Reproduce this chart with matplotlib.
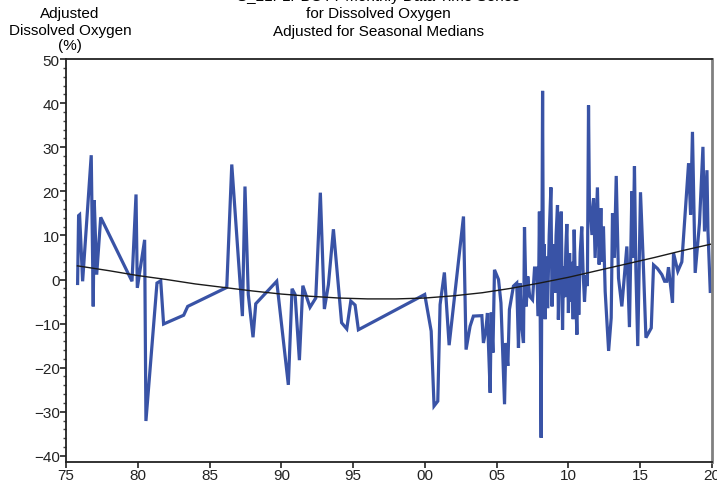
import numpy as np
import matplotlib.pyplot as plt
from matplotlib.ticker import MultipleLocator

# adjusted dissolved oxygen (%) by decimal year
years = [
    1975.81, 1975.88, 1975.95, 1976.16, 1976.76, 1976.90, 1976.97, 1977.14, 1977.42,
    1979.60, 1979.88, 1979.97, 1980.48, 1980.57, 1981.34, 1981.60, 1981.80, 1983.20,
    1983.48, 1986.20, 1986.55, 1987.29, 1987.47, 1987.70, 1988.03, 1988.22, 1989.68,
    1990.49, 1990.75, 1990.96, 1991.26, 1991.50, 1992.00, 1992.40, 1992.72, 1993.00,
    1993.28, 1993.63, 1994.20, 1994.56, 1994.84, 1995.14, 1995.37, 1999.99, 2000.44,
    2000.64, 2000.90, 2001.06, 2001.36, 2001.69, 2002.69, 2002.87, 2003.15, 2003.38,
    2003.97, 2004.08, 2004.25, 2004.36, 2004.43, 2004.55, 2004.62, 2004.74, 2004.85,
    2005.13, 2005.30, 2005.55, 2005.64, 2005.78, 2005.89, 2006.17, 2006.40, 2006.52,
    2006.62, 2006.76, 2006.87, 2006.94, 2007.06, 2007.17, 2007.30, 2007.50, 2007.64,
    2007.78, 2007.90, 2007.98, 2008.10, 2008.20, 2008.26, 2008.32, 2008.38, 2008.46,
    2008.55, 2008.66, 2008.78, 2008.86, 2008.95, 2009.05, 2009.14, 2009.24, 2009.30,
    2009.40, 2009.50, 2009.59, 2009.66, 2009.75, 2009.82, 2009.89, 2010.00, 2010.08,
    2010.16, 2010.25, 2010.33, 2010.40, 2010.50, 2010.59, 2010.66, 2010.72, 2010.82,
    2010.93, 2011.02, 2011.12, 2011.22, 2011.32, 2011.40, 2011.46,
    2011.64, 2011.75, 2011.86, 2012.02, 2012.14, 2012.26, 2012.35, 2012.44, 2012.56,
    2012.80, 2012.98, 2013.07, 2013.20, 2013.33, 2013.49, 2013.72, 2014.07, 2014.25,
    2014.42, 2014.50, 2014.60, 2014.70, 2014.83, 2015.02, 2015.20, 2015.40, 2015.77,
    2015.93, 2016.20, 2016.51, 2016.70, 2016.85, 2016.97, 2017.25, 2017.32, 2017.62,
    2017.90, 2018.37, 2018.51, 2018.64, 2018.83, 2019.13, 2019.37, 2019.48, 2019.65,
    2019.72, 2019.88,
]
values = [
    -0.9, 14.5, 14.7, -0.4, 28.2, -6.1, 18.0, 1.1, 14.1,
    -0.4, 19.3, -1.9, 9.0, -32.1, -0.8, -0.3, -10.1, -8.1,
    -6.1, -1.8, 26.1, -8.3, 21.1, -3.4, -13.1, -5.5, -0.4,
    -23.9, -2.1, -3.4, -18.3, -1.4, -6.3, -4.2, 19.7, -6.7,
    -1.2, 11.4, -9.8, -11.2, -4.9, -5.8, -11.4, -3.4, -11.7,
    -28.7, -27.6, -5.7, 1.6, -14.9, 14.3, -15.9, -10.6, -8.3,
    -8.2, -14.4, -11.4, -7.6, -14.8, -25.7, -7.5, -16.6, 2.2,
    0.0, -5.3, -28.3, -14.4, -19.6, -6.8, -1.5, -0.8, -15.5,
    -0.8, -11.0, -14.4, 11.9, -6.1, 0.7, -3.8, -4.6, 2.6,
    2.6, -8.3, 15.4, -35.9, 42.8, -5.0, 8.0, -9.0, 5.2,
    -6.5, 10.0, 20.9, -6.1, 8.0, -3.0, 10.0, 16.9, -9.1,
    6.0, 15.4, -11.4, 3.0, -4.0, 7.0, 12.6, -7.6, 6.0,
    -5.0, 4.0, -9.0, 11.3, -3.0, -12.5, 3.0, -8.0, 6.0,
    12.0, 2.0, -5.0, 1.0, -1.5, 39.5, 18.4,
    10.1, 18.4, 4.9, 20.9, 3.4, 16.2, 4.0, 12.0, -2.7,
    -16.2, -8.7, 15.0, 5.0, 23.5, 0.3, -6.1, 7.5, -10.8,
    20.0, 5.0, 25.7, 2.0, -15.1, 19.8, 5.0, -13.2, -11.0,
    3.3, 2.5, 1.1, -0.4, -0.4, 2.8, -5.3, 6.0, 1.9,
    4.0, 26.4, 14.7, 33.5, 1.5, 12.8, 30.1, 10.9, 24.8,
    11.0, -2.7,
]

# smooth trend curve
trend_years = [1975.8, 1978, 1980, 1982, 1984, 1986, 1988, 1990, 1992, 1994, 1996, 1998,
               2000, 2002, 2004, 2006, 2008, 2010, 2012, 2014, 2016, 2018, 2019.9]
trend_values = [3.1, 2.0, 0.9, 0.0, -1.0, -1.8, -2.6, -3.3, -3.8, -4.2, -4.4, -4.4,
                -4.2, -3.7, -3.0, -2.0, -0.8, 0.5, 2.0, 3.5, 5.0, 6.6, 8.0]

x_ticks = [1975, 1980, 1985, 1990, 1995, 2000, 2005, 2010, 2015, 2020]
x_labels = ['75', '80', '85', '90', '95', '00', '05', '10', '15', '20']

plt.rcParams['font.family'] = ['Liberation Sans', 'DejaVu Sans']

fig = plt.figure(figsize=(7.17, 4.85), dpi=100)
ax = fig.add_axes([0.092, 0.0454, 0.901, 0.8306])

ax.plot(years, values, color='#3953a6', lw=2.3, solid_joinstyle='miter')
ax.plot(trend_years, trend_values, color='#1a1a1a', lw=1.0)

ax.set_xlim(1975, 2020)
ax.set_ylim(-41.4, 50)
ax.set_xticks(x_ticks)
ax.set_xticklabels(x_labels)
ax.yaxis.set_major_locator(MultipleLocator(10))
ax.yaxis.set_minor_locator(MultipleLocator(2))
ax.tick_params(axis='both', labelsize=11, direction='out', length=4, width=1.2,
               colors='#222222', pad=0.5)
ax.tick_params(axis='y', which='minor', length=2.5, width=1.0, colors='#444444')

for side in ['left', 'bottom', 'top']:
    ax.spines[side].set_color('#222222')
    ax.spines[side].set_linewidth(1.3)
ax.spines['right'].set_color('#808080')
ax.spines['right'].set_linewidth(2.0)

# y-axis caption above the axis
fig.text(70 / 717, 1 - 14 / 485, 'Adjusted', ha='center', va='center', fontsize=11)
fig.text(70 / 717, 1 - 31 / 485, 'Dissolved Oxygen', ha='center', va='center', fontsize=11)
fig.text(70 / 717, 1 - 46 / 485, '(%)', ha='center', va='center', fontsize=11)

# title, first line is clipped at the top edge
fig.text(378 / 717, 1 + 3 / 485, 'S_21FLPBOTT Monthly Data Time Series',
         ha='center', va='center', fontsize=11)
fig.text(378 / 717, 1 - 14 / 485, 'for Dissolved Oxygen', ha='center', va='center', fontsize=11)
fig.text(378 / 717, 1 - 32 / 485, 'Adjusted for Seasonal Medians',
         ha='center', va='center', fontsize=11)

fig.savefig('out.png', dpi=100)
